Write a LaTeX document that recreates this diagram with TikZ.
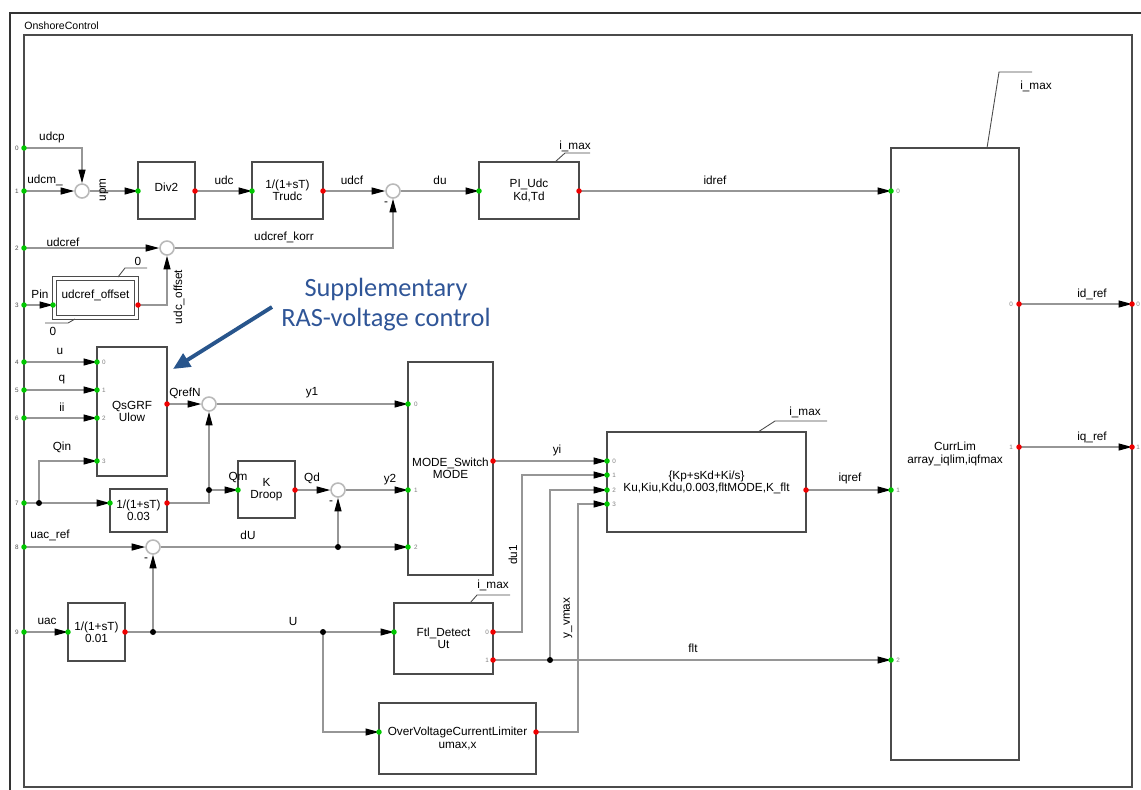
\documentclass[tikz,border=0pt]{standalone}
\usepackage{fontspec}
\setmainfont{Liberation Sans}
\newfontfamily\calibfont{Carlito}
\usetikzlibrary{arrows.meta}
\definecolor{wirec}{RGB}{150,150,150}
\definecolor{boxc}{RGB}{75,75,75}
\definecolor{pgreen}{RGB}{0,200,0}
\definecolor{pred}{RGB}{240,0,0}
\definecolor{suppblue}{RGB}{47,85,151}
\definecolor{arrblue}{RGB}{40,85,140}
\begin{document}
\begin{tikzpicture}[x=0.02cm,y=-0.02cm,
  lab/.style={font=\fontsize{6.7}{7}\selectfont, inner sep=0pt},
  blk/.style={draw=boxc, line width=0.95pt, inner sep=0pt, outer sep=0pt, align=center, font=\fontsize{6.7}{6.9}\selectfont},
  wh/.style 2 args={minimum width=#1*0.02cm, minimum height=#2*0.02cm},
  wr/.style={draw=wirec, line width=0.6pt},
  arr/.style={wr, -{Triangle[length=0.27cm,width=0.14cm,color=black]}},
  sum/.style={circle, draw=gray!55, fill=white, line width=0.9pt, minimum size=0.28cm, inner sep=0pt},
  pn/.style={font=\fontsize{3.6}{4}\selectfont, text=gray, inner sep=0pt},
  ann/.style={draw=boxc, line width=0.5pt}
]
\useasboundingbox (0,0) rectangle (1141,789);
% frames
\draw[black!80, line width=0.9pt] (10,800) -- (10,13) -- (1150,13);
\draw[boxc, line width=0.8pt] (24,35) rectangle (1132,787);
\node[font=\fontsize{6}{6}\selectfont, anchor=west, inner sep=0pt] (title) at (24,26) {OnshoreControl};

% left frame ports
\foreach \i/\y in {0/148,1/191,2/248,3/305,4/362,5/390,6/418,7/503,8/547,9/632}{
  \coordinate (p\i) at (24,\y);
  \node[pn, text=black!70] (fl\i) at (17,\y) {\i};
}
% blocks
\node[blk, wh={57}{57}] (div2) at (166.5,190.5) {\raisebox{0.14cm}{Div2}};
\node[blk, wh={71}{57}] (trudc) at (287.5,190.5) {1/(1+sT)\\Trudc};
\node[blk, wh={100}{57}] (pi) at (529,190.5) {PI\_Udc\\Kd,Td};
\node[blk, wh={82}{39}, double=white, double distance=1.5pt, line width=0.7pt] (offs) at (95.5,298) {\raisebox{0.16cm}{udcref\_offset}};
\node[blk, wh={70}{129}] (qs) at (132,411.5) {QsGRF\\Ulow};
\node[blk, wh={57}{43}] (lp3) at (138.5,510.5) {1/(1+sT)\\0.03};
\node[blk, wh={57}{57}] (kd) at (266.5,489.5) {K\\Droop};
\node[blk, wh={85}{213}] (mode) at (450.5,468.5) {MODE\_Switch\\MODE};
\node[blk, wh={57}{58}] (lp1) at (96.5,632) {1/(1+sT)\\0.01};
\node[blk, wh={199}{100}] (pid) at (706.5,482) {\{Kp+sKd+Ki/s\}\\Ku,Kiu,Kdu,0.003,fltMODE,K\_flt};
\node[blk, wh={99}{71}] (ftl) at (443.5,638.5) {Ftl\_Detect\\Ut};
\node[blk, wh={157}{71}] (ovl) at (457.5,738.5) {OverVoltageCurrentLimiter\\umax,x};
\node[blk, wh={128}{612}] (cur) at (955,454) {CurrLim\\array\_iqlim,iqfmax};

% summing junctions
\node[sum] (s1) at (82,191) {};
\node[sum] (s2) at (167,248) {};
\node[sum] (s3) at (393,191) {};
\node[sum] (s4) at (209,404) {};
\node[sum] (s5) at (338,490) {};
\node[sum] (s6) at (153,547) {};

% port coordinates
\coordinate (div2i) at (138,191); \coordinate (div2o) at (195,191);
\coordinate (trui) at (252,191); \coordinate (truo) at (323,191);
\coordinate (pii) at (479,191); \coordinate (pio) at (579,191);
\coordinate (offi) at (53,305); \coordinate (offo) at (138,305);
\coordinate (qs0) at (97,362); \coordinate (qs1) at (97,390);
\coordinate (qs2) at (97,418); \coordinate (qs3) at (97,461);
\coordinate (qso) at (167,404);
\coordinate (lp3i) at (110,503); \coordinate (lp3o) at (167,503);
\coordinate (kdi) at (238,490); \coordinate (kdo) at (295,490);
\coordinate (md0) at (408,404); \coordinate (md1) at (408,490);
\coordinate (md2) at (408,547); \coordinate (mdo) at (493,461);
\coordinate (lp1i) at (68,632); \coordinate (lp1o) at (125,632);
\coordinate (pd0) at (607,461); \coordinate (pd1) at (607,475);
\coordinate (pd2) at (607,490); \coordinate (pd3) at (607,504);
\coordinate (pdo) at (806,490);
\coordinate (fti) at (394,632); \coordinate (fto0) at (493,632);
\coordinate (fto1) at (493,660);
\coordinate (ovi) at (379,732); \coordinate (ovo) at (536,732);
\coordinate (cu0) at (891,191); \coordinate (cu1) at (891,490);
\coordinate (cu2) at (891,660);
\coordinate (cuo0) at (1019,304); \coordinate (cuo1) at (1019,447);
\coordinate (r0) at (1132,304); \coordinate (r1) at (1132,447);
% junctions and bends
\coordinate (j7) at (39,503); \coordinate (jqm) at (209,490);
\coordinate (jdu) at (338,547); \coordinate (ju1) at (153,632);
\coordinate (ju2) at (323,632); \coordinate (jflt) at (550,660);
\coordinate (k1) at (522,475); \coordinate (k3) at (578,504);

% connectors
\draw[arr] (p0) -| (s1);
\draw[arr] (p1) -- (s1);
\draw[arr] (s1) -- (div2i);
\draw[arr] (div2o) -- (trui);
\draw[arr] (truo) -- (s3);
\draw[arr] (s3) -- (pii);
\draw[arr] (pio) -- (cu0);
\draw[arr] (p2) -- (s2);
\draw[arr] (offo) -| (s2);
\draw[arr] (p3) -- (offi);
\draw[arr] (s2) -| (s3);
\draw[arr] (p4) -- (qs0);
\draw[arr] (p5) -- (qs1);
\draw[arr] (p6) -- (qs2);
\draw[arr] (p7) -- (lp3i);
\draw[arr] (j7) |- (qs3);
\draw[arr] (qso) -- (s4);
\draw[arr] (lp3o) -| (s4);
\draw[arr] (jqm) -- (kdi);
\draw[arr] (s4) -- (md0);
\draw[arr] (kdo) -- (s5);
\draw[arr] (s5) -- (md1);
\draw[arr] (p8) -- (s6);
\draw[arr] (s6) -- (md2);
\draw[arr] (jdu) -- (s5);
\draw[arr] (p9) -- (lp1i);
\draw[arr] (lp1o) -- (fti);
\draw[arr] (ju1) -- (s6);
\draw[arr] (ju2) |- (ovi);
\draw[arr] (mdo) -- (pd0);
\draw[arr] (fto0) -| (k1) -- (pd1);
\draw[arr] (fto1) -- (cu2);
\draw[arr] (jflt) |- (pd2);
\draw[arr] (ovo) -| (k3) -- (pd3);
\draw[arr] (pdo) -- (cu1);
\draw[arr] (cuo0) -- (r0);
\draw[arr] (cuo1) -- (r1);

% port dots
\foreach \c in {p0,p1,p2,p3,p4,p5,p6,p7,p8,p9,div2i,trui,pii,offi,qs0,qs1,qs2,qs3,lp3i,kdi,md0,md1,md2,lp1i,pd0,pd1,pd2,pd3,fti,ovi,cu0,cu1,cu2}
  \fill[pgreen] (\c) circle (0.055cm);
\foreach \c in {div2o,truo,pio,offo,qso,lp3o,kdo,mdo,lp1o,pdo,fto0,fto1,ovo,cuo0,cuo1,r0,r1}
  \fill[pred] (\c) circle (0.055cm);
\foreach \c in {j7,jqm,jdu,ju1,ju2,jflt}
  \fill[black] (\c) circle (0.06cm);

% port numbers inside blocks
\foreach \i/\y in {0/362,1/390,2/418,3/461} \node[pn] (nq\i) at (104,\y) {\i};
\foreach \i/\y in {0/404,1/490,2/547} \node[pn] (nm\i) at (416,\y) {\i};
\foreach \i/\y in {0/461,1/475,2/490,3/504} \node[pn] (np\i) at (614,\y) {\i};
\foreach \i/\y in {0/191,1/490,2/660} \node[pn] (nc\i) at (898,\y) {\i};
\foreach \i/\y in {0/304,1/447} \node[pn] (no\i) at (1011,\y) {\i};
\foreach \i/\y in {0/304,1/447} \node[pn] (nr\i) at (1138,\y) {\i};
\foreach \i/\y in {0/632,1/660} \node[pn] (nf\i) at (487,\y) {\i};

% parameter annotations
\draw[ann] (555,162) -- (565,153) -- (590,153);
\node[lab] (im1) at (575,146) {i\_max};
\draw[ann] (987,148) -- (999,72) -- (1032,72);
\node[lab] (im2) at (1036,86) {i\_max};
\draw[ann] (758,432) -- (775,421) -- (827,421);
\node[lab] (im3) at (805,412) {i\_max};
\draw[ann] (470,603) -- (477,595) -- (510,595);
\node[lab] (im4) at (493,585) {i\_max};
\draw[ann] (118,277) -- (125,268) -- (147,268);
\node[lab] (z1) at (138,261) {0};
\draw[ann] (75,319) -- (68,323) -- (45,323);
\node[lab] (z2) at (53,331) {0};

% signal labels
\foreach \n/\x/\y/\t in {a/52/137/udcp, b/45/180/udcm\_, c/224/180/udc, d/352/180/udcf, e/440/180/du, f/715/180/idref, g/63/242/udcref, h/284/237/udcref\_korr, i/40/294/Pin, j/60/351/u, k/62/380/q, l/62/407/ii, m/62/447/Qin, n/185/393/QrefN, o/312/393/y1, p/238/477/Qm, q/312/478/Qd, r/390/480/y2, s/50/535/uac\_ref, t/248/535/dU, u/47/621/uac, v/293/621/U, w/557/450/yi, x/693/648/flt, y/850/478/iqref, z/1092/294/id\_ref, zz/1092/437/iq\_ref}
  \node[lab] (L\n) at (\x,\y) {\t};
\foreach \n/\x/\y/\t in {a/104/190/upm, b/179/297/udc\_offset, c/513/555/du1, d/568/618/y\_vmax}
  \node[lab, rotate=90] (R\n) at (\x,\y) {\t};
\node[lab] (m1) at (386,204) {-};
\node[lab] (m2) at (331,503) {-};
\node[lab] (m3) at (146,560) {-};

% supplementary note
\node[font=\calibfont\fontsize{15}{17}\selectfont, text=suppblue, align=center] (supp) at (386,305) {Supplementary\\RAS-voltage control};
\coordinate (bs) at (272,307);
\coordinate (be) at (173,369);
\draw[arrblue, line width=2.2pt, -{Triangle[length=0.34cm,width=0.3cm]}] (bs) -- (be);
\end{tikzpicture}
\end{document}
